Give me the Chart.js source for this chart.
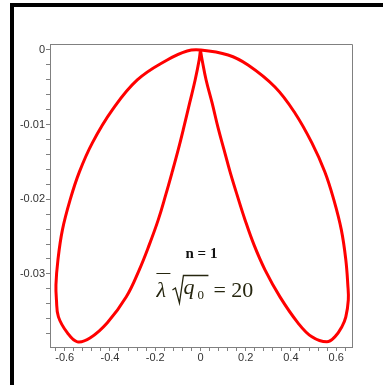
<!DOCTYPE html>
<html>
<head>
<meta charset="utf-8">
<script src="https://cdn.jsdelivr.net/npm/chart.js@4.4.0/dist/chart.umd.min.js"></script>
<style>
  body { margin: 0; background: #fff; }
  #wrap { position: relative; width: 383px; height: 385px; }
  #frame {
    position: absolute; left: 10px; top: 3px; right: 0; bottom: 0;
    border-top: 4px solid #000; border-left: 4px solid #000;
    pointer-events: none;
  }
</style>
</head>
<body>
<div id="wrap">
  <canvas id="chart" width="383" height="385"></canvas>
  <div id="frame"></div>
</div>
<script>
// closed loop traced as one open path: cusp -> left lobe -> top of outer arc -> right lobe -> cusp
const innerLeft = [
  [0, 0], [-0.0057, -0.00134], [-0.0234, -0.00402], [-0.0476, -0.0071], [-0.0741, -0.01045],
  [-0.0984, -0.01339], [-0.1248, -0.01634], [-0.1535, -0.01942], [-0.1866, -0.02277],
  [-0.2263, -0.02612], [-0.2704, -0.02946], [-0.3277, -0.03308], [-0.4116, -0.03656],
  [-0.4866, -0.03857], [-0.5439, -0.03911]
];
const outerLeft = [
  [-0.5880, -0.03791], [-0.6277, -0.03576], [-0.6365, -0.03348], [-0.6387, -0.03147],
  [-0.6299, -0.02812], [-0.6101, -0.02411], [-0.5761, -0.02009], [-0.5351, -0.01634],
  [-0.4777, -0.01245], [-0.3895, -0.00804], [-0.2792, -0.00402], [-0.1469, -0.00134],
  [-0.0587, -0.00013], [0, 0]
];
const outerRight = [
  [0.1222, -0.00067], [0.2104, -0.00201], [0.3295, -0.00496], [0.4177, -0.00844],
  [0.4927, -0.01245], [0.5501, -0.01634], [0.5898, -0.02009], [0.6229, -0.02411],
  [0.6427, -0.02812], [0.6515, -0.03147], [0.6537, -0.03348], [0.6427, -0.03576],
  [0.6251, -0.03710], [0.5942, -0.03844], [0.5589, -0.03911]
];
const innerRight = [
  [0.4927, -0.03844], [0.4310, -0.03656], [0.3516, -0.03308], [0.2854, -0.02946],
  [0.2369, -0.02612], [0.1972, -0.02277], [0.1619, -0.01942], [0.1310, -0.01634],
  [0.1045, -0.01339], [0.0781, -0.01045], [0.0516, -0.0071], [0.0251, -0.00402],
  [0.0075, -0.00134], [0, 0]
];

const xMajorTicks = [-0.6, -0.4, -0.2, 0, 0.2, 0.4, 0.6];
const yMajorTicks = [0, -0.01, -0.02, -0.03];
const xMinorStep = 0.04;
const yMinorStep = 0.002;

const curve = [...innerLeft, ...outerLeft, ...outerRight, ...innerRight].map(p => ({ x: p[0], y: p[1] }));

const xTicks = [];
for (let i = -16; i <= 16; i++) xTicks.push(+(i * xMinorStep).toFixed(2));
const yTicks = [];
for (let i = 0; i <= 19; i++) yTicks.push(+(-i * yMinorStep).toFixed(3));

const isMajor = (list, v) => list.some(m => Math.abs(m - v) < 1e-6);

// gray box round the plot area, and the two captions
const extras = {
  id: 'extras',
  afterDraw(chart) {
    const { ctx, chartArea: a } = chart;
    ctx.save();
    ctx.strokeStyle = '#808080';
    ctx.lineWidth = 1;
    ctx.beginPath();
    ctx.moveTo(a.left, a.top + 0.5);
    ctx.lineTo(a.right + 0.5, a.top + 0.5);
    ctx.lineTo(a.right + 0.5, a.bottom);
    ctx.stroke();

    const cx = chart.scales.x.getPixelForValue(0);
    ctx.fillStyle = '#111';
    ctx.textAlign = 'center';
    ctx.textBaseline = 'alphabetic';
    ctx.font = 'bold 15px "Liberation Serif"';
    ctx.fillText('n = 1', cx + 1, 258);

    const base = 297;
    const ink = '#26260f';
    ctx.fillStyle = ink;
    ctx.strokeStyle = ink;
    ctx.textAlign = 'left';
    ctx.font = 'italic 22px "Liberation Serif"';
    ctx.fillText('\u03bb', cx - 44, base);
    ctx.lineWidth = 1;
    ctx.beginPath();
    ctx.moveTo(cx - 44, 273.5);
    ctx.lineTo(cx - 30, 273.5);
    ctx.stroke();

    // radical sign over q0
    ctx.lineWidth = 1.3;
    ctx.beginPath();
    ctx.moveTo(cx - 28, 290);
    ctx.lineTo(cx - 25, 288);
    ctx.lineTo(cx - 21, 303);
    ctx.lineTo(cx - 17, 275.5);
    ctx.lineTo(cx + 8, 275.5);
    ctx.stroke();

    ctx.font = 'italic 22px "Liberation Serif"';
    ctx.fillText('q', cx - 17, base - 3);
    ctx.font = '13px "Liberation Serif"';
    ctx.fillText('0', cx - 3, base + 2);
    ctx.font = '22px "Liberation Serif"';
    ctx.fillText('= 20', cx + 13, base);
    ctx.restore();
  }
};

new Chart(document.getElementById('chart'), {
  type: 'scatter',
  data: {
    datasets: [{
      data: curve,
      showLine: true,
      borderColor: '#ff0000',
      borderWidth: 3,
      pointRadius: 0,
      tension: 0.4,
      fill: false
    }]
  },
  options: {
    responsive: false,
    animation: false,
    events: [],
    layout: { padding: { top: 44, right: 31, left: 0, bottom: 0 } },
    plugins: { legend: { display: false }, tooltip: { enabled: false } },
    scales: {
      x: {
        type: 'linear',
        min: -0.665,
        max: 0.67,
        afterFit(s) { s.height = 38; },
        afterBuildTicks(s) { s.ticks = xTicks.map(v => ({ value: v })); },
        border: { display: true, color: '#808080', width: 1 },
        grid: { drawOnChartArea: false, drawTicks: true, tickLength: 4, color: '#808080' },
        ticks: {
          autoSkip: false,
          maxRotation: 0,
          padding: 0,
          color: '#333',
          font: { family: '"Liberation Sans"', size: 11 },
          callback: v => isMajor(xMajorTicks, v) ? (v === 0 ? '0' : v.toFixed(1)) : ''
        }
      },
      y: {
        type: 'linear',
        min: -0.0398,
        max: 0.0008,
        afterFit(s) { s.width = 50; },
        afterBuildTicks(s) { s.ticks = yTicks.map(v => ({ value: v })); },
        border: { display: true, color: '#808080', width: 1 },
        grid: { drawOnChartArea: false, drawTicks: true, tickLength: 4, color: '#808080' },
        ticks: {
          autoSkip: false,
          padding: 1,
          color: '#333',
          font: { family: '"Liberation Sans"', size: 11 },
          callback: v => isMajor(yMajorTicks, v) ? (v === 0 ? '0' : v.toFixed(2)) : ''
        }
      }
    }
  },
  plugins: [extras]
});
</script>
</body>
</html>
